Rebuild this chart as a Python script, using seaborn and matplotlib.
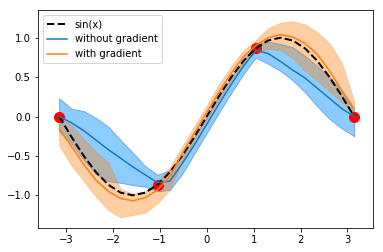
import matplotlib
matplotlib.use("Agg")
import matplotlib.pyplot as plt
import seaborn as sns

# sample positions (-pi .. pi in 24 steps)
xs = [-3.142, -2.880, -2.618, -2.356, -2.094, -1.833, -1.571, -1.309, -1.047, -0.785,
      -0.524, -0.262, 0.000, 0.262, 0.524, 0.785, 1.047, 1.309, 1.571, 1.833,
      2.094, 2.356, 2.618, 2.880, 3.142]

sin_y = [0.0, -0.259, -0.5, -0.707, -0.866, -0.966, -1.0, -0.966, -0.866, -0.707,
         -0.5, -0.259, 0.0, 0.259, 0.5, 0.707, 0.866, 0.966, 1.0, 0.966,
         0.866, 0.707, 0.5, 0.259, 0.0]

# without gradient: mean, upper, lower
no_grad = [0.0, -0.08, -0.18, -0.30, -0.42, -0.53, -0.64, -0.74, -0.84, -0.82,
           -0.60, -0.36, -0.10, 0.16, 0.41, 0.64, 0.84, 0.80, 0.70, 0.59,
           0.49, 0.36, 0.23, 0.10, 0.0]
no_grad_hi = [0.23, 0.10, 0.07, -0.02, -0.13, -0.30, -0.46, -0.63, -0.74, -0.68,
              -0.50, -0.26, 0.0, 0.26, 0.50, 0.72, 0.92, 0.95, 0.92, 0.88,
              0.77, 0.64, 0.50, 0.33, 0.08]
no_grad_lo = [-0.19, -0.34, -0.55, -0.73, -0.82, -0.84, -0.87, -0.89, -0.95, -0.93,
              -0.73, -0.47, -0.21, 0.05, 0.30, 0.54, 0.75, 0.67, 0.58, 0.46,
              0.31, 0.13, -0.03, -0.15, -0.25]

# with gradient: mean, upper, lower
grad = [-0.16, -0.38, -0.61, -0.81, -0.95, -1.04, -1.07, -1.03, -0.93, -0.76,
        -0.47, -0.21, 0.05, 0.31, 0.55, 0.76, 0.90, 1.00, 1.04, 1.01,
        0.93, 0.79, 0.58, 0.33, 0.10]
grad_hi = [-0.02, -0.11, -0.28, -0.45, -0.58, -0.92, -0.98, -0.95, -0.82, -0.64,
           -0.38, -0.12, 0.14, 0.41, 0.64, 0.84, 0.97, 1.12, 1.19, 1.21,
           1.17, 1.07, 0.93, 0.68, 0.20]
grad_lo = [-0.37, -0.62, -0.82, -1.02, -1.19, -1.28, -1.25, -1.22, -1.10, -0.93,
           -0.57, -0.30, -0.04, 0.22, 0.46, 0.68, 0.82, 0.86, 0.84, 0.74,
           0.58, 0.45, 0.32, 0.18, 0.04]

# observed points
obs_x = [-3.1416, -1.0472, 1.0472, 3.1416]
obs_y = [0.0, -0.866, 0.866, 0.0]

fig = plt.figure(figsize=(383 / 72, 252 / 72), dpi=72)
ax = fig.add_axes([0.0984, 0.0964, 0.8762, 0.8639])

ax.fill_between(xs, no_grad_lo, no_grad_hi, facecolor="#8ccdff",
                edgecolor="#6a98f0", linewidth=0.8)
ax.fill_between(xs, grad_lo, grad_hi, facecolor=(1.0, 0.5, 0.05, 0.38),
                edgecolor=(0.95, 0.5, 0.2, 0.35), linewidth=0.8)
ax.scatter(obs_x, obs_y, color="red", s=100)

sns.lineplot(x=xs, y=sin_y, color="k", linestyle="--", linewidth=2, label="sin(x)", ax=ax)
sns.lineplot(x=xs, y=no_grad, color="C0", linewidth=1.5, label="without gradient", ax=ax)
sns.lineplot(x=xs, y=grad, color="C1", linewidth=1.5, label="with gradient", ax=ax)

ax.set_xlim(-3.6, 3.55)
ax.set_ylim(-1.411, 1.352)
ax.set_xticks([-3, -2, -1, 0, 1, 2, 3])
ax.set_yticks([-1.0, -0.5, 0.0, 0.5, 1.0])
ax.legend(loc="upper left")

fig.savefig("out.png", dpi=72)
